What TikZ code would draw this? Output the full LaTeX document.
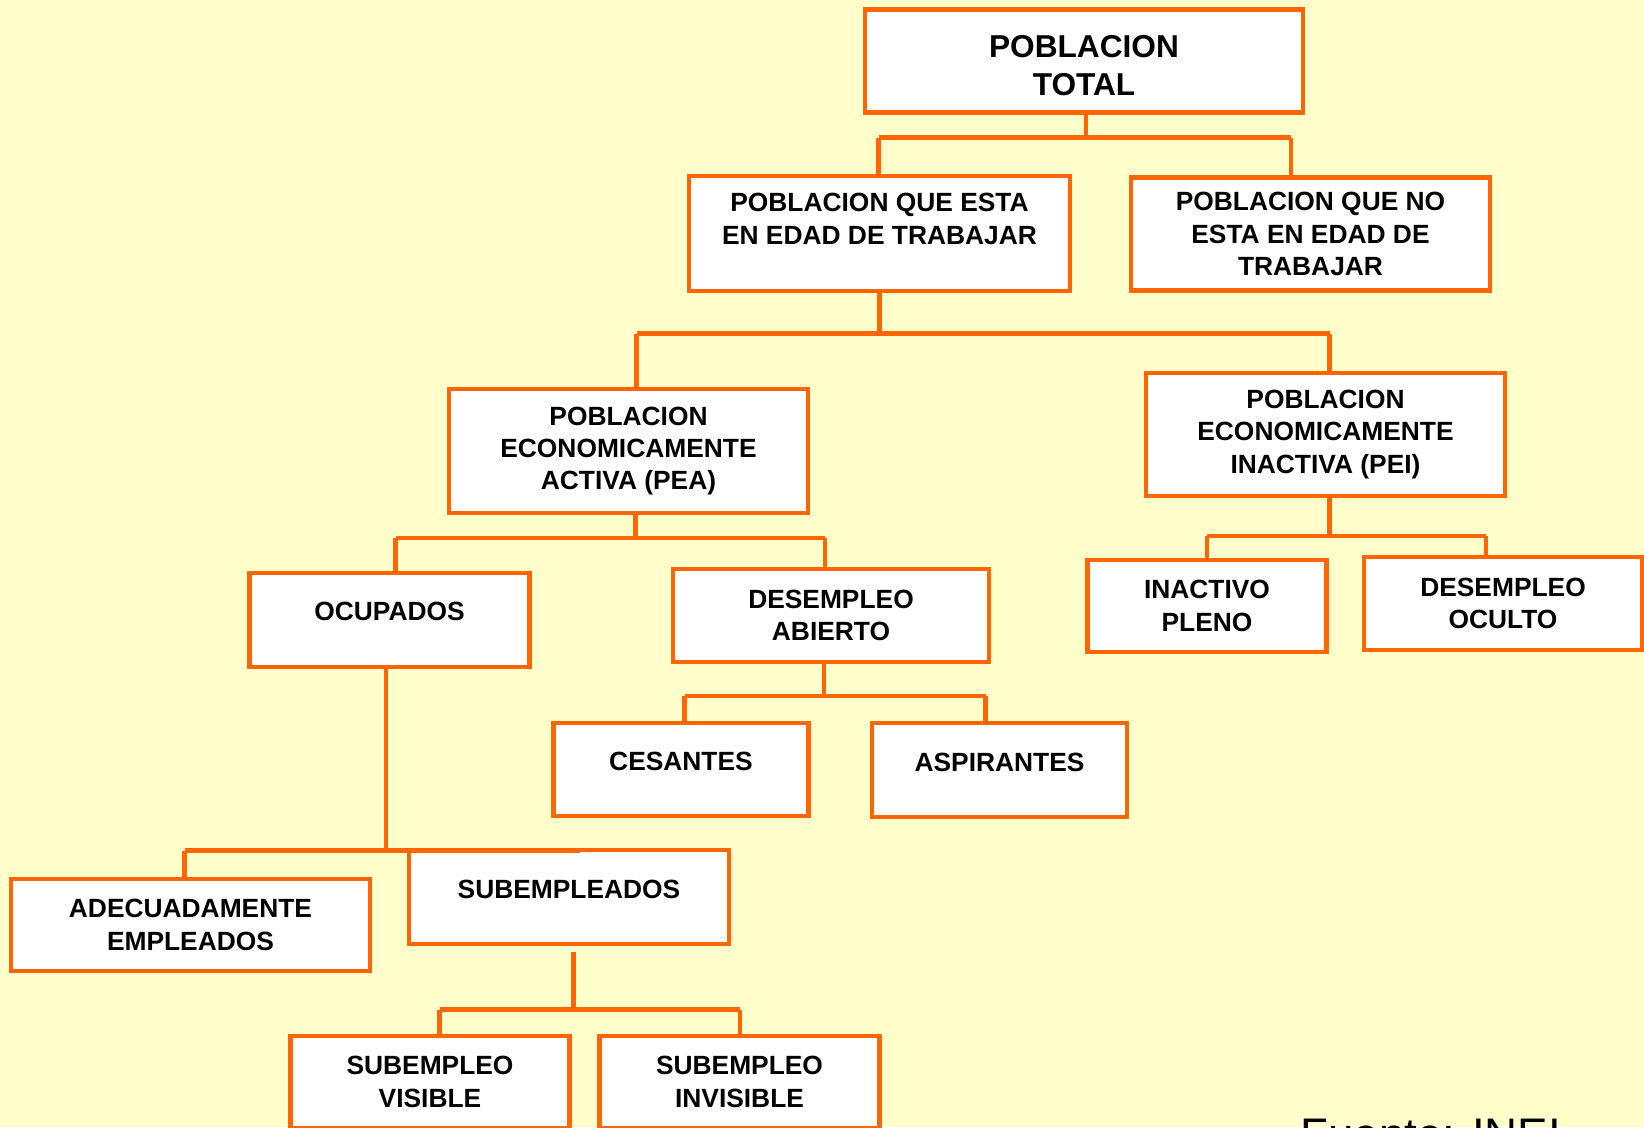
\documentclass[tikz,border=0pt]{standalone}
\usepackage{fontspec}
\setmainfont{Liberation Sans}
\definecolor{naranja}{HTML}{FF6600}
\definecolor{fondo}{HTML}{FFFFCC}
\tikzset{
  caja/.style 2 args={
    draw=naranja, fill=white, rectangle, line width=2.3pt, align=center,
    minimum width=#1, minimum height=#2, inner sep=0pt,
    font=\bfseries\fontsize{15}{18.4}\selectfont
  },
  linea/.style={
    draw=naranja, line width=2.3pt
  },
  subir/.style={text depth=#1}
}

\begin{document}
\begin{tikzpicture}
  \fill[fondo] (0,0) rectangle (32.88,-22.54);
  \useasboundingbox (0,0) rectangle (32.88,-22.54);

  \node[caja={8.77cm}{2.06cm}, font=\bfseries\fontsize{18}{21.5}\selectfont, text height=39pt] (tot) at (21.68,-1.22) {POBLACION\\TOTAL};
  \node[caja={7.63cm}{2.29cm}, subir=0.59cm] (pet) at (17.59,-4.67) {POBLACION QUE ESTA\\EN EDAD DE TRABAJAR};
  \node[caja={7.17cm}{2.26cm}] (pnet) at (26.21,-4.68) {POBLACION QUE NO\\ESTA EN EDAD DE\\TRABAJAR};
  \node[caja={7.19cm}{2.47cm}] (pea) at (12.57,-9.02) {POBLACION\\ECONOMICAMENTE\\ACTIVA (PEA)};
  \node[caja={7.17cm}{2.45cm}] (pei) at (26.51,-8.69) {POBLACION\\ECONOMICAMENTE\\INACTIVA (PEI)};
  \node[caja={5.60cm}{1.87cm}, subir=0.35cm] (ocu) at (7.79,-12.40) {OCUPADOS};
  \node[caja={6.31cm}{1.85cm}] (dab) at (16.62,-12.31) {DESEMPLEO\\ABIERTO};
  \node[caja={4.78cm}{1.85cm}] (inp) at (24.14,-12.12) {INACTIVO\\PLENO};
  \node[caja={5.56cm}{1.87cm}] (doc) at (30.06,-12.07) {DESEMPLEO\\OCULTO};
  \node[caja={5.10cm}{1.85cm}, subir=0.33cm] (ces) at (13.62,-15.39) {CESANTES};
  \node[caja={5.10cm}{1.87cm}, subir=0.31cm] (asp) at (19.99,-15.40) {ASPIRANTES};
  \node[caja={7.19cm}{1.85cm}] (ade) at (3.81,-18.50) {ADECUADAMENTE\\EMPLEADOS};
  \node[caja={6.40cm}{1.87cm}, subir=0.31cm] (sub) at (11.38,-17.94) {SUBEMPLEADOS};
  \node[caja={5.58cm}{1.85cm}] (sv) at (8.60,-21.64) {SUBEMPLEO\\VISIBLE};
  \node[caja={5.60cm}{1.85cm}] (si) at (14.79,-21.64) {SUBEMPLEO\\INVISIBLE};

  % poblacion total
  \coordinate (ja) at (21.72,-2.75);
  \coordinate (ja1) at (17.57,-2.75);
  \coordinate (ja2) at (25.82,-2.75);
  \draw[linea] (ja |- tot.south) -- (ja);
  \draw[linea] (ja1) -- (ja2);
  \draw[linea] (ja1) -- (ja1 |- pet.north);
  \draw[linea] (ja2) -- (ja2 |- pnet.north);

  % edad de trabajar
  \coordinate (jb) at (17.59,-6.67);
  \coordinate (jb1) at (12.73,-6.67);
  \coordinate (jb2) at (26.59,-6.67);
  \draw[linea] (jb |- pet.south) -- (jb);
  \draw[linea] (jb1) -- (jb2);
  \draw[linea] (jb1) -- (jb1 |- pea.north);
  \draw[linea] (jb2) -- (jb2 |- pei.north);

  % pea
  \coordinate (jc) at (12.71,-10.76);
  \coordinate (jc1) at (7.91,-10.76);
  \coordinate (jc2) at (16.50,-10.76);
  \draw[linea] (jc |- pea.south) -- (jc);
  \draw[linea] (jc1) -- (jc2);
  \draw[linea] (jc1) -- (jc1 |- ocu.north);
  \draw[linea] (jc2) -- (jc2 |- dab.north);

  % pei
  \coordinate (jd) at (26.59,-10.72);
  \coordinate (jd1) at (24.14,-10.72);
  \coordinate (jd2) at (29.71,-10.72);
  \draw[linea] (jd |- pei.south) -- (jd);
  \draw[linea] (jd1) -- (jd2);
  \draw[linea] (jd1) -- (jd1 |- inp.north);
  \draw[linea] (jd2) -- (jd2 |- doc.north);

  % desempleo abierto
  \coordinate (je) at (16.48,-13.92);
  \coordinate (je1) at (13.69,-13.92);
  \coordinate (je2) at (19.71,-13.92);
  \draw[linea] (je |- dab.south) -- (je);
  \draw[linea] (je1) -- (je2);
  \draw[linea] (je1) -- (je1 |- ces.north);
  \draw[linea] (je2) -- (je2 |- asp.north);

  % ocupados
  \coordinate (jf) at (7.72,-17.01);
  \coordinate (jf1) at (3.69,-17.01);
  \coordinate (jf2) at (11.60,-17.01);
  \draw[linea] (jf |- ocu.south) -- (jf);
  \draw[linea] (jf1) -- (jf2);
  \draw[linea] (jf1) -- (jf1 |- ade.north);

  % subempleados
  \coordinate (jg) at (11.47,-20.19);
  \coordinate (jg1) at (8.79,-20.19);
  \coordinate (jg2) at (14.80,-20.19);
  \draw[linea, shorten <=0.12cm] (jg |- sub.south) -- (jg);
  \draw[linea] (jg1) -- (jg2);
  \draw[linea] (jg1) -- (jg1 |- sv.north);
  \draw[linea] (jg2) -- (jg2 |- si.north);

  \node[anchor=base west, inner sep=0pt, font=\fontsize{26}{31}\selectfont] (fuente) at (26.0,-23.0) {Fuente: INEI};
\end{tikzpicture}
\end{document}
